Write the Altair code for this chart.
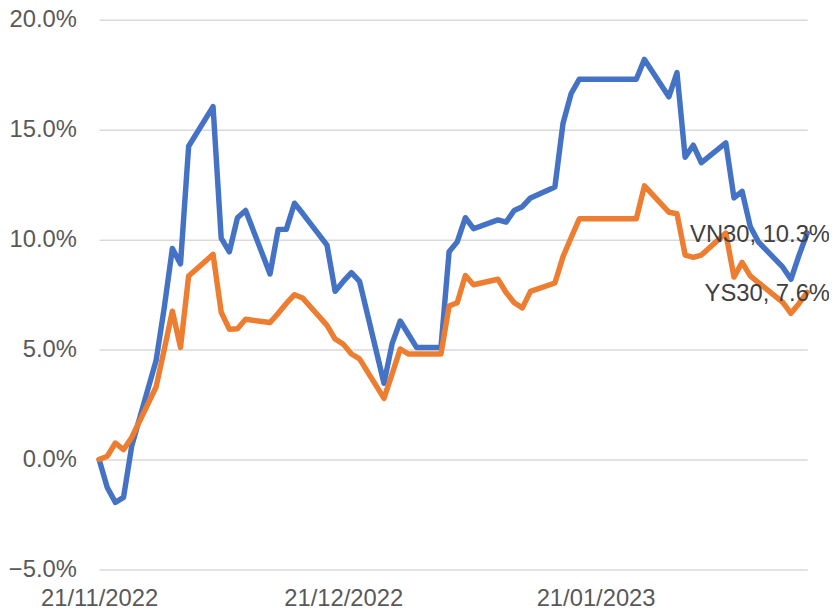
import altair as alt
import pandas as pd

# Trading days (holidays carried forward)
dates = [
    "2022-11-21", "2022-11-22", "2022-11-23", "2022-11-24", "2022-11-25",
    "2022-11-28", "2022-11-29", "2022-11-30",
    "2022-12-01", "2022-12-02", "2022-12-05", "2022-12-06", "2022-12-07",
    "2022-12-08", "2022-12-09", "2022-12-12", "2022-12-13", "2022-12-14",
    "2022-12-15", "2022-12-16", "2022-12-19", "2022-12-20", "2022-12-21",
    "2022-12-22", "2022-12-23", "2022-12-26", "2022-12-27", "2022-12-28",
    "2022-12-29", "2022-12-30",
    "2023-01-02", "2023-01-03", "2023-01-04", "2023-01-05", "2023-01-06",
    "2023-01-09", "2023-01-10", "2023-01-11", "2023-01-12", "2023-01-13",
    "2023-01-16", "2023-01-17", "2023-01-18", "2023-01-19", "2023-01-20",
    "2023-01-23", "2023-01-24", "2023-01-25", "2023-01-26", "2023-01-27",
    "2023-01-30", "2023-01-31",
    "2023-02-01", "2023-02-02", "2023-02-03", "2023-02-06", "2023-02-07",
    "2023-02-08", "2023-02-09", "2023-02-10", "2023-02-13", "2023-02-14",
    "2023-02-15", "2023-02-16",
]

# cumulative return, percent
vn30 = [
    0.0, -1.27, -1.95, -1.72, 0.6, 4.5, 6.9, 9.6,
    8.9, 14.25, 16.05, 10.07, 9.45, 11.0, 11.33, 8.44, 10.47, 10.47,
    11.66, 11.2, 9.75, 7.65, 8.1, 8.5, 8.1, 3.47, 5.27, 6.3, 5.7, 5.1,
    5.1, 9.45, 9.9, 11.0, 10.5, 10.9, 10.8, 11.33, 11.5, 11.9,
    12.4, 15.3, 16.65, 17.3, 17.3, 17.3, 17.3, 17.3, 17.3, 18.2, 16.5, 17.6,
    13.75, 14.3, 13.5, 14.4, 11.9, 12.2, 10.6, 9.9, 8.75, 8.2, 9.3, 10.3,
]
ys30 = [
    0.0, 0.15, 0.75, 0.45, 1.0, 3.3, 5.0, 6.75,
    5.1, 8.35, 9.33, 6.7, 5.93, 5.95, 6.38, 6.23, 6.65, 7.1,
    7.5, 7.35, 6.1, 5.48, 5.25, 4.8, 4.58, 2.78, 3.9, 5.03, 4.8, 4.8,
    4.8, 6.98, 7.13, 8.37, 7.95, 8.2, 7.6, 7.13, 6.9, 7.65,
    8.03, 9.23, 10.1, 10.95, 10.95, 10.95, 10.95, 10.95, 10.95, 12.45, 11.25, 11.18,
    9.3, 9.2, 9.3, 10.3, 8.3, 8.97, 8.35, 8.05, 7.15, 6.65, 7.1, 7.6,
]

series_names = ["VN30", "YS30"]
series_colors = ["#4472C4", "#ED7D31"]
y_ticks = [-5, 0, 5, 10, 15, 20]
x_ticks = [(2022, 11, 21), (2022, 12, 21), (2023, 1, 21)]

df = pd.DataFrame({
    "date": dates,
    "VN30": [v / 100 for v in vn30],
    "YS30": [v / 100 for v in ys30],
})
long = df.melt("date", var_name="series", value_name="value")

label_df = pd.DataFrame({
    "date": [dates[-1], dates[-1]],
    "series": series_names,
    "value": [vn30[-1] / 100, ys30[-1] / 100],
})

FONT = "Liberation Sans"
FS = 24

x_enc = alt.X(
    "date:T",
    scale=alt.Scale(
        type="utc",
        domain=[alt.DateTime(year=2022, month=11, date=21, utc=True),
                alt.DateTime(year=2023, month=2, date=16, utc=True)],
        nice=False,
    ),
    axis=alt.Axis(
        values=[alt.DateTime(year=y, month=m, date=d, utc=True) for (y, m, d) in x_ticks],
        labelExpr="utcFormat(datum.value, '%d/%m/%Y')",
        title=None,
        grid=False,
        domain=False,
        ticks=False,
        labelFlush=False,
        labelOverlap=False,
        labelFont=FONT,
        labelFontSize=FS,
        labelColor="#595959",
        labelPadding=17,
    ),
)
y_enc = alt.Y(
    "value:Q",
    scale=alt.Scale(domain=[y_ticks[0] / 100, y_ticks[-1] / 100], nice=False),
    axis=alt.Axis(
        values=[t / 100 for t in y_ticks],
        format=".1%",
        title=None,
        domain=False,
        ticks=False,
        gridColor="#D9D9D9",
        gridWidth=1.5,
        labelFont=FONT,
        labelFontSize=FS,
        labelColor="#595959",
        labelPadding=23,
    ),
)

layers = []
for name, col in zip(series_names, series_colors):
    layers.append(
        alt.Chart(long)
        .transform_filter(alt.datum.series == name)
        .mark_line(color=col, strokeWidth=5.5, strokeJoin="round", strokeCap="round")
        .encode(x=x_enc, y=y_enc)
    )

labels = (
    alt.Chart(label_df)
    .transform_calculate(label="datum.series + ', ' + format(datum.value, '.1%')")
    .mark_text(align="right", baseline="middle", dx=23, dy=2, font=FONT,
               fontSize=FS, color="#404040")
    .encode(x=x_enc, y=y_enc, text="label:N")
)

chart = (
    alt.layer(*layers, labels)
    .properties(
        width=715,
        height=555,
        autosize=alt.AutoSizeParams(type="none"),
        padding={"left": 92, "top": 9, "right": 22, "bottom": 40},
        background="white",
    )
    .configure_view(stroke=None)
)

chart.save("out.html", embed_options={"renderer": "svg", "actions": False})
